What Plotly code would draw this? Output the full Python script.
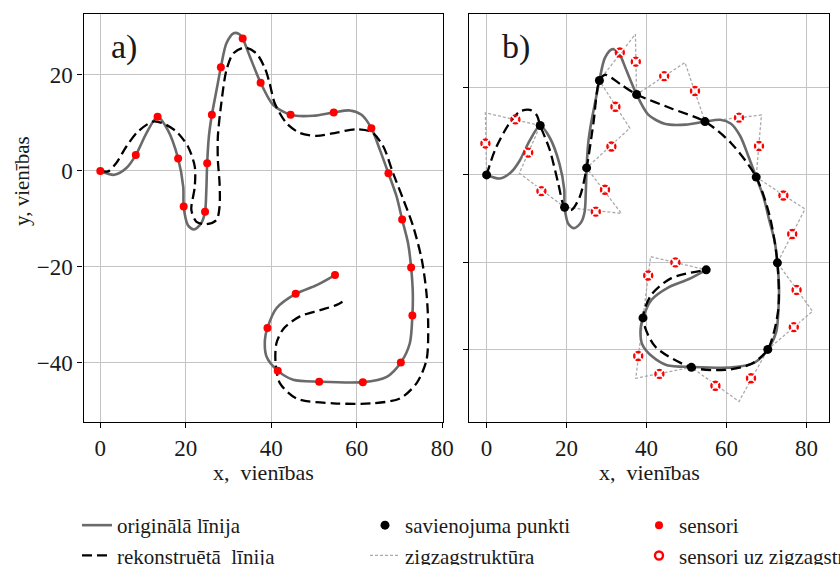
import plotly.graph_objects as go

# ---------------- data ----------------
orig_x = [0, 3.3, 6.1, 8.3, 10.8, 13.4, 15.8, 18.2, 19.4, 19.5, 20.5, 21.9, 23.6, 24.5, 24.8, 25.0,
          25.4, 26.1, 27.2, 28.2, 29.5, 31.2, 32.5, 33.3, 35.0, 37.5, 40.4, 44.5, 49.8, 54.6, 58.4,
          61.1, 63.4, 65.4, 67.4, 69.3, 70.6, 72.0, 72.7, 73.1, 73.0, 72.4, 70.3, 67.0, 61.4, 51.2,
          45.1, 41.5, 38.9, 38.5, 39.1, 41.2, 45.7, 50.6, 54.9]
orig_y = [0, -0.8, 0.6, 3.3, 7.9, 11.3, 8.5, 2.6, -3.3, -7.4, -11.3, -12.2, -10.9, -8.5, -4.0, 1.6,
          7.2, 11.7, 16.9, 21.6, 26.6, 28.7, 28.5, 27.6, 23.8, 18.4, 13.8, 11.7, 11.5, 12.2, 12.6,
          11.7, 8.9, 4.4, -0.5, -5.3, -10.1, -15.1, -20.1, -25.5, -30.1, -35.9, -39.9, -42.9, -44.0,
          -43.9, -43.5, -41.6, -38.7, -35.2, -32.7, -28.6, -25.6, -23.8, -21.7]

rec_a_x = [0, 1.8, 3.7, 6.1, 8.8, 12.3, 14.7, 17.8, 20.5, 22.1, 22.1, 21.3, 22.5, 24.8, 27.2, 27.9,
           27.9, 27.5, 27.5, 28.3, 29.5, 31.1, 33.8, 36.5, 38.5, 39.6, 40.8, 43.6, 46.7, 50.6, 55.3,
           59.9, 63.5, 66.2, 68.5, 70.9, 73.2, 75.2, 76.3, 76.7, 76.3, 74.0, 70.1, 63.8, 54.5, 45.9,
           42.0, 41.0, 41.2, 42.9, 46.7, 51.4, 55.3, 57.6]
rec_a_y = [0, -0.1, 1.6, 5.1, 8.2, 10.3, 9.9, 8.2, 5.1, 0.9, -3.3, -8.1, -10.6, -11.1, -10.2, -7.4,
           -2.6, 2.3, 7.2, 14.1, 21.0, 24.5, 25.7, 24.5, 21.4, 18.3, 14.1, 9.9, 7.9, 7.3, 8.0,
           8.7, 8.1, 5.1, -0.5, -6.0, -11.6, -18.5, -25.5, -32.4, -39.4, -44.2, -47.4, -48.4, -48.4,
           -47.4, -44.2, -40.1, -35.9, -32.8, -30.3, -29.0, -27.9, -26.7]

sens_x = [0, 8.3, 13.4, 18.2, 19.5, 24.5, 25.0, 26.1, 28.2, 33.3, 37.5, 44.5, 54.6, 63.4, 67.4,
          70.6, 72.7, 73.0, 70.3, 61.4, 51.2, 41.5, 39.1, 45.7, 54.9]
sens_y = [0, 3.3, 11.3, 2.6, -7.4, -8.5, 1.6, 11.7, 21.6, 27.6, 18.4, 11.7, 12.2, 8.9, -0.5,
          -10.1, -20.1, -30.1, -39.9, -44.0, -43.9, -41.6, -32.7, -25.6, -21.7]

rec_b_x = [0, 2.1, 5.4, 8.3, 10.8, 12.5, 13.4, 15.8, 17.9, 19.5, 21.2, 23.3, 25.0, 26.7, 28.2, 29.6,
           33.7, 37.5, 46.2, 54.6, 61.2, 67.4, 70.8, 72.7, 72.9, 70.3, 66.2, 59.6, 51.2, 42.1, 39.1,
           41.2, 46.2, 54.9]
rec_b_y = [0, 5.7, 11.4, 14.5, 14.9, 13.7, 11.3, 5.7, -1.9, -7.4, -8.0, -5.0, 1.6, 11.8, 21.6, 22.9,
           20.6, 18.4, 15.2, 12.2, 7.2, -0.5, -9.5, -20.1, -30.9, -39.9, -43.2, -44.6, -44.0, -39.2,
           -32.7, -27.4, -23.6, -21.7]

join_x = [0, 13.4, 19.5, 25.0, 28.2, 37.5, 54.6, 67.4, 72.7, 70.3, 51.2, 39.1, 54.9]
join_y = [0, 11.3, -7.4, 1.6, 21.6, 18.4, 12.2, -0.5, -20.1, -39.9, -44.0, -32.7, -21.7]

zig_vx = [-0.3, 8.2, 33.7, 35.8, 37.2, 49.6, 68.7, 79.6, 81.5, 63.1, 37.3, 41.0]
zig_vy = [14.2, 0.4, -8.8, 10.7, 32.2, 25.7, 13.7, -7.8, -31.2, -51.8, -46.5, -18.7]

zs_x = [-0.3, 7.2, 10.4, 13.7, 27.3, 29.6, 31.2, 32.2, 33.3, 37.3, 44.4, 52.1, 63.1, 68.1, 74.2,
        76.4, 77.5, 76.8, 66.1, 57.2, 43.2, 37.9, 40.4, 47.2]
zs_y = [7.2, 12.7, 5.1, -3.7, -8.4, -3.4, 6.5, 15.6, 28.0, 25.9, 22.6, 19.2, 13.1, 6.6, -4.7,
        -13.5, -26.3, -34.8, -46.5, -48.2, -45.5, -41.4, -23.0, -20.0]

x_ticks = [0, 20, 40, 60, 80]
y_ticks = [-40, -20, 0, 20]

# zigzag polyline: join point, vertex, join point, ...
zig_x, zig_y = [join_x[0]], [join_y[0]]
for i in range(len(zig_vx)):
    zig_x += [zig_vx[i], join_x[i + 1]]
    zig_y += [zig_vy[i], join_y[i + 1]]

FONT = "Liberation Serif"
GREY = "#6a6a6a"
TXT = "#1a1a1a"
fig = go.Figure()

# ---- panel a ----
fig.add_trace(go.Scatter(x=orig_x, y=orig_y, mode="lines", line=dict(color=GREY, width=2.6, shape="spline", smoothing=0.8),
                         name="originālā līnija", legend="legend", xaxis="x", yaxis="y"))
fig.add_trace(go.Scatter(x=rec_a_x, y=rec_a_y, mode="lines", line=dict(color="black", width=2.3, dash="10px,5px", shape="spline", smoothing=0.8),
                         name="rekonstruētā  līnija", legend="legend", xaxis="x", yaxis="y"))
fig.add_trace(go.Scatter(x=sens_x, y=sens_y, mode="markers", marker=dict(color="red", size=8),
                         name="sensori", legend="legend3", xaxis="x", yaxis="y"))

# ---- panel b ----
fig.add_trace(go.Scatter(x=zig_x, y=zig_y, mode="lines", line=dict(color="#aaaaaa", width=1.3, dash="3px,2px"),
                         name="zigzagstruktūra", legend="legend2", legendrank=2, xaxis="x2", yaxis="y2"))
fig.add_trace(go.Scatter(x=orig_x, y=orig_y, mode="lines", line=dict(color=GREY, width=2.6, shape="spline", smoothing=0.8),
                         showlegend=False, xaxis="x2", yaxis="y2"))
fig.add_trace(go.Scatter(x=rec_b_x, y=rec_b_y, mode="lines", line=dict(color="black", width=2.3, dash="10px,5px", shape="spline", smoothing=0.8),
                         showlegend=False, xaxis="x2", yaxis="y2"))
fig.add_trace(go.Scatter(x=join_x, y=join_y, mode="markers", marker=dict(color="black", size=9),
                         name="savienojuma punkti", legend="legend2", legendrank=1, xaxis="x2", yaxis="y2"))
fig.add_trace(go.Scatter(x=zs_x, y=zs_y, mode="markers", marker=dict(color="red", size=8, symbol="circle-open", line=dict(width=2.4, color="red")),
                         name="sensori uz zigzagstruktūras", legend="legend3", xaxis="x2", yaxis="y2"))
fig.add_trace(go.Scatter(x=zs_x, y=zs_y, mode="markers", marker=dict(color="white", size=10, symbol="x-thin-open", line=dict(width=1.6, color="white")),
                         showlegend=False, hoverinfo="skip", xaxis="x2", yaxis="y2"))

axis_common = dict(showgrid=True, gridcolor="#c4c4c4", gridwidth=1.2, zeroline=False,
                   showline=True, mirror=True, linecolor="black", linewidth=1.3,
                   ticks="outside", ticklen=5, tickwidth=1.2, tickcolor="black",
                   tickfont=dict(family=FONT, size=23, color=TXT), automargin=False)

leg_common = dict(orientation="v", xanchor="left", y=1 - 505 / 565, yanchor="top",
                  font=dict(family=FONT, size=21, color=TXT), bgcolor="rgba(0,0,0,0)",
                  tracegroupgap=0, traceorder="normal")

fig.update_layout(
    width=840, height=565, plot_bgcolor="white", paper_bgcolor="white",
    margin=dict(l=0, r=0, t=0, b=0, autoexpand=False),
    xaxis=dict(axis_common, domain=[83.5 / 840, 443 / 840], range=[-3.93, 80.16], tickvals=x_ticks, anchor="y"),
    yaxis=dict(axis_common, domain=[1 - 422 / 565, 1 - 14 / 565], range=[-52.3, 32.7], tickvals=y_ticks, anchor="x"),
    xaxis2=dict(axis_common, domain=[469 / 840, 829 / 840], range=[-4.4, 85.6], tickvals=x_ticks, anchor="y2"),
    yaxis2=dict(axis_common, domain=[1 - 422 / 565, 1 - 14 / 565], range=[-56.5, 36.8], tickvals=y_ticks,
                showticklabels=False, anchor="x2"),
    showlegend=True,
    legend=dict(leg_common, x=77 / 840),
    legend2=dict(leg_common, x=365 / 840),
    legend3=dict(leg_common, x=639 / 840),
    font=dict(family=FONT),
)

annos = [
    dict(text="a)", xref="x domain", yref="y domain", x=0.072, y=0.919, xanchor="left", yanchor="middle",
         font=dict(size=34, color=TXT)),
    dict(text="b)", xref="x2 domain", yref="y2 domain", x=0.085, y=0.919, xanchor="left", yanchor="middle",
         font=dict(size=34, color=TXT)),
    dict(text="x,  vienības", xref="x domain", yref="paper", x=0.5, y=1 - 473 / 565, xanchor="center", yanchor="middle",
         font=dict(size=22, color=TXT)),
    dict(text="x,  vienības", xref="x2 domain", yref="paper", x=0.5, y=1 - 473 / 565, xanchor="center", yanchor="middle",
         font=dict(size=22, color=TXT)),
    dict(text="y, vienības", xref="paper", yref="paper", x=22 / 840, y=1 - 181 / 565, xanchor="center", yanchor="middle",
         textangle=-90, font=dict(size=21, color=TXT)),
]
for a in annos:
    a["showarrow"] = False
    a["font"]["family"] = FONT
fig.update_layout(annotations=annos)

fig.write_html("out.html")
